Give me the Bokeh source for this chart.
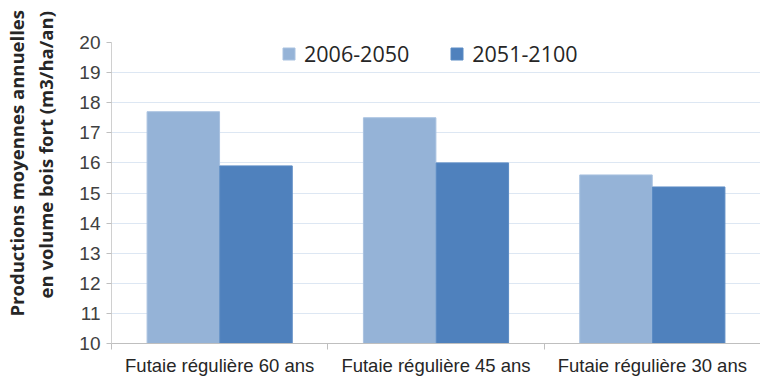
import numpy as np
from bokeh.plotting import figure
from bokeh.models import (ColumnDataSource, Range1d, FixedTicker, Legend, LegendItem, Title)
from bokeh.transform import dodge
from bokeh.embed import file_html
from bokeh.resources import INLINE

# Forest management scenarios and mean annual growth per period
categories = ["Futaie régulière 60 ans", "Futaie régulière 45 ans", "Futaie régulière 30 ans"]
periods = ["2006-2050", "2051-2100"]
prod_2006_2050 = [17.7, 17.5, 15.6]
prod_2051_2100 = [15.9, 16.0, 15.2]
y_ticks = list(range(10, 21))
y_title_lines = ["Productions moyennes annuelles", "en volume bois fort (m3/ha/an)"]

colors = ["#95b3d7", "#4f81bd"]

centers = np.arange(len(categories)) + 0.5
source = ColumnDataSource(data=dict(x=centers, a=prod_2006_2050, b=prod_2051_2100))

p = figure(width=760, height=378, output_backend="svg", toolbar_location=None,
           x_range=Range1d(0, len(categories)), y_range=Range1d(10, 20),
           min_border_left=110, min_border_right=0, min_border_top=42, min_border_bottom=33)
p.outline_line_color = None
p.background_fill_color = "white"
p.border_fill_color = "white"

bar_w = 0.335
r1 = p.vbar(x=dodge("x", -0.168), top="a", bottom=10, width=bar_w, source=source,
            fill_color=colors[0], line_color="#a9c2e0", line_width=1)
r2 = p.vbar(x=dodge("x", 0.168), top="b", bottom=10, width=bar_w, source=source,
            fill_color=colors[1], line_color="#5b8bc4", line_width=1)

# x axis: labels at category centres, small ticks at category boundaries
p.xaxis.ticker = FixedTicker(ticks=list(centers), minor_ticks=list(range(len(categories) + 1)))
p.xaxis.major_label_overrides = {float(c): name for c, name in zip(centers, categories)}
p.xaxis.major_tick_line_color = None
p.xaxis.minor_tick_line_color = "#bfbfbf"
p.xaxis.minor_tick_out = 6
p.xaxis.minor_tick_in = 0
p.xaxis.axis_line_color = "#bfbfbf"
p.xaxis.major_label_text_font = "Liberation Sans"
p.xaxis.major_label_text_font_size = "18.5px"
p.xaxis.major_label_text_color = "#262626"
p.xaxis.major_label_standoff = 5

# y axis (an empty label leaves a gap before the side titles)
p.yaxis.ticker = FixedTicker(ticks=y_ticks)
p.yaxis.minor_tick_line_color = None
p.yaxis.major_tick_line_color = "#bfbfbf"
p.yaxis.major_tick_out = 5
p.yaxis.major_tick_in = 0
p.yaxis.axis_line_color = "#d0d0d0"
p.yaxis.major_label_text_font = "Liberation Sans"
p.yaxis.major_label_text_font_size = "19px"
p.yaxis.major_label_text_color = "#404040"
p.yaxis.major_label_standoff = 6
p.yaxis.axis_label = " "
p.yaxis.axis_label_text_font_size = "1px"
p.yaxis.axis_label_standoff = 14

# two-line vertical title as stacked side titles (inner line first)
for line, off in ((y_title_lines[1], 45), (y_title_lines[0], 27)):
    p.add_layout(Title(text=line, align="left", offset=off, standoff=2,
                       text_font="Open Sans", text_font_style="bold",
                       text_font_size="18.5px", text_color="#262626"), "left")

p.xgrid.grid_line_color = None
p.ygrid.grid_line_color = "#dde7f3"
p.ygrid.grid_line_width = 1

legend = Legend(items=[LegendItem(label=periods[0], renderers=[r1]),
                       LegendItem(label=periods[1], renderers=[r2])],
                orientation="horizontal",
                label_text_font="Open Sans", label_text_font_size="21.5px",
                label_text_color="#262626", label_height=34,
                glyph_width=15, glyph_height=15, label_standoff=8, spacing=40,
                border_line_color=None, background_fill_alpha=0,
                padding=4, margin=0)
legend.location = (170, 273)
p.add_layout(legend)

open("out.html", "w").write(file_html(p, INLINE))
